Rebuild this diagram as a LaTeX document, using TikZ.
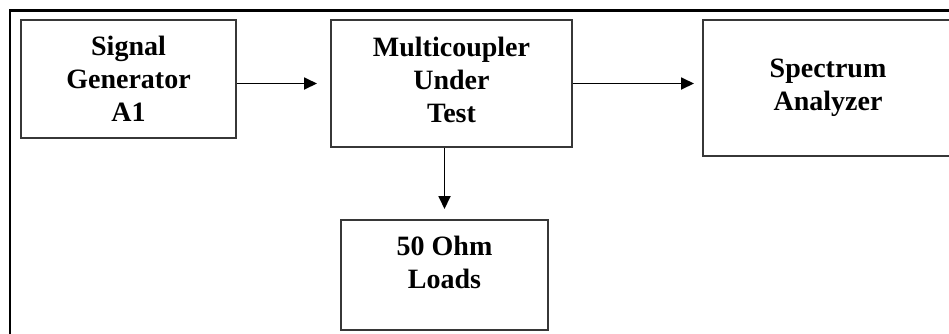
\documentclass[tikz,border=0pt]{standalone}
\usepackage{fontspec}
\setmainfont{Liberation Serif}
\usetikzlibrary{arrows.meta}
\definecolor{Edge}{RGB}{55, 55, 55}
\definecolor{Ink}{RGB}{0, 0, 0}

\begin{document}
\begin{tikzpicture}[x=1pt, y=1pt,
    box/.style={rectangle, draw=Edge, line width=2pt, inner sep=0pt, align=center,
                font=\fontsize{28}{33}\selectfont\bfseries},
    lbl/.style={align=center, inner sep=0pt, font=\fontsize{28}{33}\selectfont\bfseries},
    arr/.style={-{Triangle[length=13pt, width=12pt]}, line width=1.8pt, Ink},
]
\useasboundingbox (0,0) rectangle (949,-333);
\clip (0,0) rectangle (949,-333);
\draw[line width=2.2pt, Ink] (10,-10.5) rectangle (980,-360);

\node[box, minimum width=215pt, minimum height=118pt]
      (siggen) at (128.5,-79) {Signal\\Generator\\A1};
\node[box, minimum width=241pt, minimum height=127pt]
      (coupler) at (451.5,-83.5) {};
\node[lbl] (couplertxt) at (451.5,-80) {Multicoupler\\Under\\Test};
\node[box, minimum width=250pt, minimum height=136pt]
      (analyzer) at (828,-88) {Spectrum\\Analyzer};
\node[box, minimum width=207pt, minimum height=110pt]
      (loads) at (444.5,-275) {};
\node[lbl] (loadstxt) at (444.5,-262.5) {50 Ohm\\Loads};

\draw[arr, shorten >=13pt] (siggen.east |- coupler.west) -- (coupler.west);
\draw[arr, shorten >=8pt] (coupler.east) -- (analyzer.west |- coupler.east);
\draw[arr, shorten >=10pt] (loads.north |- coupler.south) -- (loads.north);
\end{tikzpicture}
\end{document}
